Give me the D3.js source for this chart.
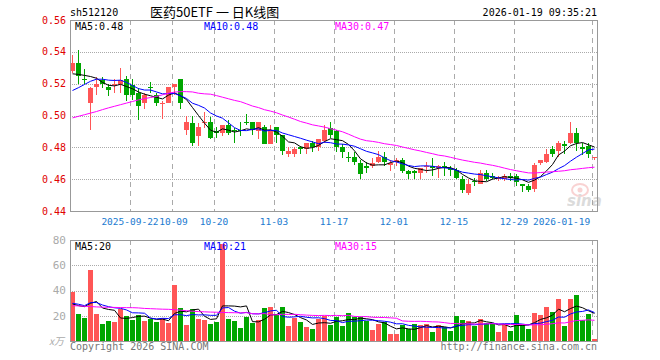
<!DOCTYPE html>
<html>
<head>
<meta charset="utf-8">
<script src="https://cdn.jsdelivr.net/npm/d3@7/dist/d3.min.js"></script>
<style>
body{margin:0;background:#fff;}
svg{display:block;font-family:"DejaVu Sans Mono",monospace;}
</style>
</head>
<body>
<svg width="660" height="360"></svg>
<script>
// trading days shown
let dates = [
"2025-09-08","2025-09-09","2025-09-10","2025-09-11","2025-09-12",
"2025-09-15","2025-09-16","2025-09-17","2025-09-18","2025-09-19",
"2025-09-22","2025-09-23","2025-09-24","2025-09-25","2025-09-26",
"2025-09-29","2025-09-30","2025-10-09","2025-10-10",
"2025-10-13","2025-10-14","2025-10-15","2025-10-16","2025-10-17",
"2025-10-20","2025-10-21","2025-10-22","2025-10-23","2025-10-24",
"2025-10-27","2025-10-28","2025-10-29","2025-10-30","2025-10-31",
"2025-11-03","2025-11-04","2025-11-05","2025-11-06","2025-11-07",
"2025-11-10","2025-11-11","2025-11-12","2025-11-13","2025-11-14",
"2025-11-17","2025-11-18","2025-11-19","2025-11-20","2025-11-21",
"2025-11-24","2025-11-25","2025-11-26","2025-11-27","2025-11-28",
"2025-12-01","2025-12-02","2025-12-03","2025-12-04","2025-12-05",
"2025-12-08","2025-12-09","2025-12-10","2025-12-11","2025-12-12",
"2025-12-15","2025-12-16","2025-12-17","2025-12-18","2025-12-19",
"2025-12-22","2025-12-23","2025-12-24","2025-12-25","2025-12-26",
"2025-12-29","2025-12-30","2025-12-31",
"2026-01-05","2026-01-06","2026-01-07","2026-01-08","2026-01-09",
"2026-01-12","2026-01-13","2026-01-14","2026-01-15","2026-01-16",
"2026-01-19"];

let openP = [0.528,0.533,0.523,0.508,0.518,0.522,0.518,0.519,0.520,0.523,
0.519,0.514,0.508,0.518,0.513,0.507,0.508,0.518,0.523,0.491,
0.495,0.487,0.495,0.496,0.490,0.489,0.494,0.491,0.491,0.496,
0.496,0.490,0.493,0.482,0.493,0.488,0.476,0.476,0.480,0.479,
0.483,0.480,0.484,0.492,0.490,0.480,0.474,0.474,0.470,0.468,
0.468,0.471,0.474,0.469,0.471,0.472,0.465,0.465,0.464,0.468,
0.468,0.467,0.468,0.467,0.466,0.460,0.451,0.459,0.457,0.464,
0.462,0.461,0.460,0.462,0.462,0.457,0.456,0.454,0.470,0.471,
0.479,0.478,0.482,0.483,0.489,0.480,0.481,0.474];
let highP = [0.538,0.541,0.529,0.518,0.524,0.524,0.520,0.523,0.530,0.525,
0.523,0.517,0.514,0.521,0.514,0.509,0.518,0.520,0.523,0.500,
0.500,0.495,0.502,0.499,0.493,0.494,0.497,0.492,0.496,0.501,
0.496,0.496,0.494,0.494,0.493,0.488,0.480,0.480,0.481,0.483,
0.484,0.485,0.494,0.496,0.491,0.482,0.477,0.477,0.472,0.471,
0.473,0.478,0.477,0.472,0.473,0.473,0.466,0.466,0.467,0.471,
0.473,0.469,0.471,0.468,0.467,0.462,0.460,0.461,0.466,0.466,
0.464,0.462,0.463,0.464,0.463,0.457,0.457,0.470,0.472,0.479,
0.481,0.484,0.484,0.496,0.492,0.483,0.483,0.474];
let lowP = [0.527,0.520,0.520,0.491,0.513,0.517,0.512,0.514,0.514,0.509,
0.510,0.497,0.504,0.514,0.506,0.498,0.508,0.513,0.504,0.488,
0.481,0.481,0.492,0.485,0.486,0.487,0.488,0.483,0.487,0.494,
0.488,0.485,0.482,0.482,0.483,0.475,0.474,0.474,0.476,0.476,
0.477,0.478,0.483,0.486,0.477,0.473,0.471,0.469,0.460,0.464,
0.467,0.470,0.468,0.465,0.468,0.464,0.460,0.460,0.460,0.464,
0.462,0.461,0.462,0.462,0.460,0.451,0.450,0.456,0.457,0.459,
0.460,0.459,0.459,0.459,0.456,0.452,0.452,0.452,0.469,0.470,
0.474,0.474,0.476,0.482,0.478,0.475,0.473,0.472];
let closeP = [0.533,0.525,0.522,0.517,0.520,0.520,0.516,0.520,0.522,0.513,
0.513,0.506,0.513,0.517,0.508,0.508,0.518,0.520,0.508,0.496,
0.483,0.493,0.496,0.486,0.489,0.494,0.489,0.490,0.490,0.495,
0.491,0.496,0.482,0.491,0.488,0.478,0.478,0.479,0.479,0.483,
0.480,0.485,0.491,0.488,0.480,0.477,0.473,0.471,0.463,0.467,
0.470,0.474,0.471,0.470,0.472,0.465,0.463,0.464,0.467,0.468,
0.467,0.468,0.467,0.466,0.461,0.453,0.457,0.458,0.464,0.460,
0.461,0.461,0.462,0.461,0.458,0.456,0.453,0.469,0.472,0.476,
0.476,0.483,0.481,0.489,0.483,0.479,0.476,0.474];

// volume, 万
let volume = [39.2,21.4,18.4,56.0,21.4,13.4,15.8,15.0,25.4,20.0,
16.6,20.6,15.8,17.4,15.0,17.9,14.2,44.6,26.2,12.6,
25.4,17.4,16.6,13.4,15.0,76.6,17.4,15.8,10.2,19.0,
14.2,16.6,26.2,27.0,20.6,27.0,11.8,18.4,15.0,11.0,
9.4,17.4,19.8,12.6,18.7,11.8,22.2,19.2,18.7,16.0,
8.6,13.4,15.2,5.4,5.4,12.6,9.4,13.4,12.3,13.4,
7.0,12.6,11.0,7.8,19.8,16.6,15.8,11.8,17.4,14.4,
13.1,7.0,13.4,7.8,20.6,12.6,9.4,22.2,20.6,27.0,
23.0,33.4,11.8,33.4,36.6,16.6,21.4,1.4];

// moving average values before a full window exists
let ma5Head = [0.5262,0.5258,0.5252,0.5245];
let ma10Head = [0.5157,0.5175,0.5195,0.5215,0.5228,0.5228,0.5222,0.5220,0.5222];
let ma30Head = [0.4985,0.4995,0.5005,0.5015,0.5025,0.5037,0.5048,0.5058,0.5068,0.5078,
0.5088,0.5098,0.5106,0.5113,0.5120,0.5130,0.5140,0.5147,0.5150,0.5150,
0.5148,0.5140,0.5136,0.5134,0.5125,0.5115,0.5105,0.5095,0.5087];
let volMa5Head = [29.4,28.0,27.2,29.9];
let volMa10Head = [29.9,29.1,28.0,30.4,30.5,28.5,27.2,26.3,25.9];
let volMa30Head = [28.0,27.8,27.5,27.3,27.0,26.8,26.7,26.6,26.5,26.4,
26.4,26.2,25.8,25.6,25.4,25.2,25.1,24.8,24.4,24.0,
23.6,23.3,23.1,22.9,22.8,22.6,22.5,22.4,22.3];

let tickDates = ["2025-09-22","2025-10-09","2025-10-20","2025-11-03","2025-11-17","2025-12-01","2025-12-15","2025-12-29","2026-01-19"];
let tickLabels = ["2025-09-22","10-09","10-20","11-03","11-17","12-01","12-15","12-29","2026-01-19"];
let priceTicks = [0.44,0.46,0.48,0.50,0.52,0.54,0.56];
let volTicks = [20,40,60,80];

let movingAvg = function(arr, n, head){
  return arr.map(function(v, i){
    if (i < n - 1) return head[i];
    return d3.mean(arr.slice(i - n + 1, i + 1));
  });
}

let RED = "#ff5656", GREEN = "#00a600";
let svg = d3.select("svg");
let left = 70, right = 598;
let top1 = 20, bot1 = 211, top2 = 240, bot2 = 341;

let x = d3.scaleBand().domain(dates).range([left, right]).padding(0);
let bw = x.bandwidth();
let yP = d3.scaleLinear().domain([0.44, 0.56]).range([bot1, top1]);
let yV = d3.scaleLinear().domain([0, 80]).range([bot2, top2]);

// header
svg.append("text").attr("x", 70).attr("y", 16).attr("font-size", 10).text("sh512120");
svg.append("text").attr("x", 150).attr("y", 17)
  .style("font-family", "'Noto Sans CJK SC'").attr("font-size", 13)
  .text("医药50ETF 一 日K线图");
svg.append("text").attr("x", 597).attr("y", 16).attr("text-anchor", "end")
  .attr("font-size", 10).text("2026-01-19 09:35:21");

// grids
let grid = svg.append("g").attr("stroke", "#aaa").attr("fill", "none");
priceTicks.slice(1, -1).forEach(function(t){
  grid.append("line").attr("x1", left).attr("x2", right)
    .attr("y1", Math.round(yP(t)) + 0.5).attr("y2", Math.round(yP(t)) + 0.5)
    .attr("stroke-dasharray", "1,1");
});
volTicks.slice(0, -1).forEach(function(t){
  grid.append("line").attr("x1", left).attr("x2", right)
    .attr("y1", Math.round(yV(t)) + 0.5).attr("y2", Math.round(yV(t)) + 0.5)
    .attr("stroke-dasharray", "1,1");
});
tickDates.forEach(function(d){
  let gx = Math.round(x(d)) + 0.5;
  grid.append("line").attr("x1", gx).attr("x2", gx).attr("y1", top1).attr("y2", bot1)
    .attr("stroke-dasharray", "5,4");
  grid.append("line").attr("x1", gx).attr("x2", gx).attr("y1", top2).attr("y2", bot2)
    .attr("stroke-dasharray", "5,4");
});

// sina watermark
let wm = svg.append("g").attr("opacity", 0.35);
wm.append("ellipse").attr("cx", 580).attr("cy", 190).attr("rx", 8).attr("ry", 6)
  .attr("fill", "none").attr("stroke", "#f08080").attr("stroke-width", 2);
wm.append("circle").attr("cx", 580).attr("cy", 190).attr("r", 2.5).attr("fill", "#f08080");
wm.append("text").attr("x", 567).attr("y", 206).attr("font-size", 15)
  .style("font-family", "'DejaVu Sans'").attr("font-weight", "bold").attr("font-style", "italic")
  .attr("fill", "#999").text("sina");

// candles
let candles = svg.append("g").attr("shape-rendering", "crispEdges");
dates.forEach(function(d, i){
  let up = closeP[i] >= openP[i];
  let c = up ? RED : GREEN;
  let cx = Math.round(x(d)) + 2.5;
  candles.append("line").attr("x1", cx).attr("x2", cx)
    .attr("y1", yP(highP[i])).attr("y2", yP(lowP[i])).attr("stroke", c);
  let yTop = yP(Math.max(openP[i], closeP[i]));
  let h = Math.abs(yP(openP[i]) - yP(closeP[i]));
  candles.append("rect").attr("x", Math.round(x(d))).attr("width", bw - 1)
    .attr("y", yTop).attr("height", Math.max(1, h)).attr("fill", c);
  // volume bars
  candles.append("rect").attr("x", Math.round(x(d))).attr("width", bw - 1)
    .attr("y", yV(volume[i])).attr("height", bot2 - yV(volume[i])).attr("fill", c);
});

// MA lines
let maLine = function(yScale){
  return d3.line().x(function(v, i){ return x(dates[i]) + 2.5; })
    .y(function(v){ return yScale(v); });
}
let maSets = [
  [movingAvg(closeP, 5, ma5Head), movingAvg(volume, 5, volMa5Head), "#000"],
  [movingAvg(closeP, 10, ma10Head), movingAvg(volume, 10, volMa10Head), "#0000ff"],
  [movingAvg(closeP, 30, ma30Head), movingAvg(volume, 30, volMa30Head), "#ff00ff"]
];
maSets.forEach(function(s){
  svg.append("path").attr("d", maLine(yP)(s[0])).attr("fill", "none").attr("stroke", s[2]);
  svg.append("path").attr("d", maLine(yV)(s[1])).attr("fill", "none").attr("stroke", s[2]);
});

// frames
svg.append("rect").attr("x", left + 0.5).attr("y", top1 + 0.5).attr("width", right - left - 1)
  .attr("height", bot1 - top1).attr("fill", "none").attr("stroke", "#999");
svg.append("rect").attr("x", left + 0.5).attr("y", top2 + 0.5).attr("width", right - left - 1)
  .attr("height", bot2 - top2).attr("fill", "none").attr("stroke", "#999");

// legends
let legendP = ["MA5:0.48", "MA10:0.48", "MA30:0.47"];
let legendV = ["MA5:20", "MA10:21", "MA30:15"];
let legendX = [75, 204, 335];
let legendC = ["#000", "#0000ff", "#ff00ff"];
legendP.forEach(function(t, j){
  svg.append("text").attr("x", legendX[j]).attr("y", 30).attr("font-size", 10)
    .attr("fill", legendC[j]).text(t);
  svg.append("text").attr("x", legendX[j]).attr("y", 250).attr("font-size", 10)
    .attr("fill", legendC[j]).text(legendV[j]);
});

// axis labels
priceTicks.forEach(function(t){
  svg.append("text").attr("x", 66).attr("y", yP(t)).attr("dy", "0.35em")
    .attr("text-anchor", "end").attr("font-size", 10).attr("fill", "#e00000")
    .text(t.toFixed(2));
});
volTicks.forEach(function(t){
  svg.append("text").attr("x", 66).attr("y", yV(t)).attr("dy", "0.35em")
    .attr("text-anchor", "end").attr("font-size", 11).attr("fill", "#aaa").text(t);
});
svg.append("text").attr("x", 49).attr("y", 345).attr("font-size", 10).attr("fill", "#aaa")
  .style("font-family", "'Noto Sans CJK SC'").attr("font-style", "italic").text("x万");
tickDates.forEach(function(d, j){
  let last = j == tickDates.length - 1;
  svg.append("text").attr("x", last ? 533 : x(d) + (j == 1 ? 1.5 : 0)).attr("y", 225)
    .attr("text-anchor", last ? "start" : "middle").attr("font-size", 9.5)
    .attr("fill", "#1a7ad0").text(tickLabels[j]);
});

// footer
svg.append("text").attr("x", 70).attr("y", 350).attr("font-size", 10).attr("fill", "#777")
  .text("Copyright 2026 SINA.COM");
svg.append("text").attr("x", 597).attr("y", 350).attr("text-anchor", "end")
  .attr("font-size", 10).attr("fill", "#777").text("http://finance.sina.com.cn");
</script>
</body>
</html>
